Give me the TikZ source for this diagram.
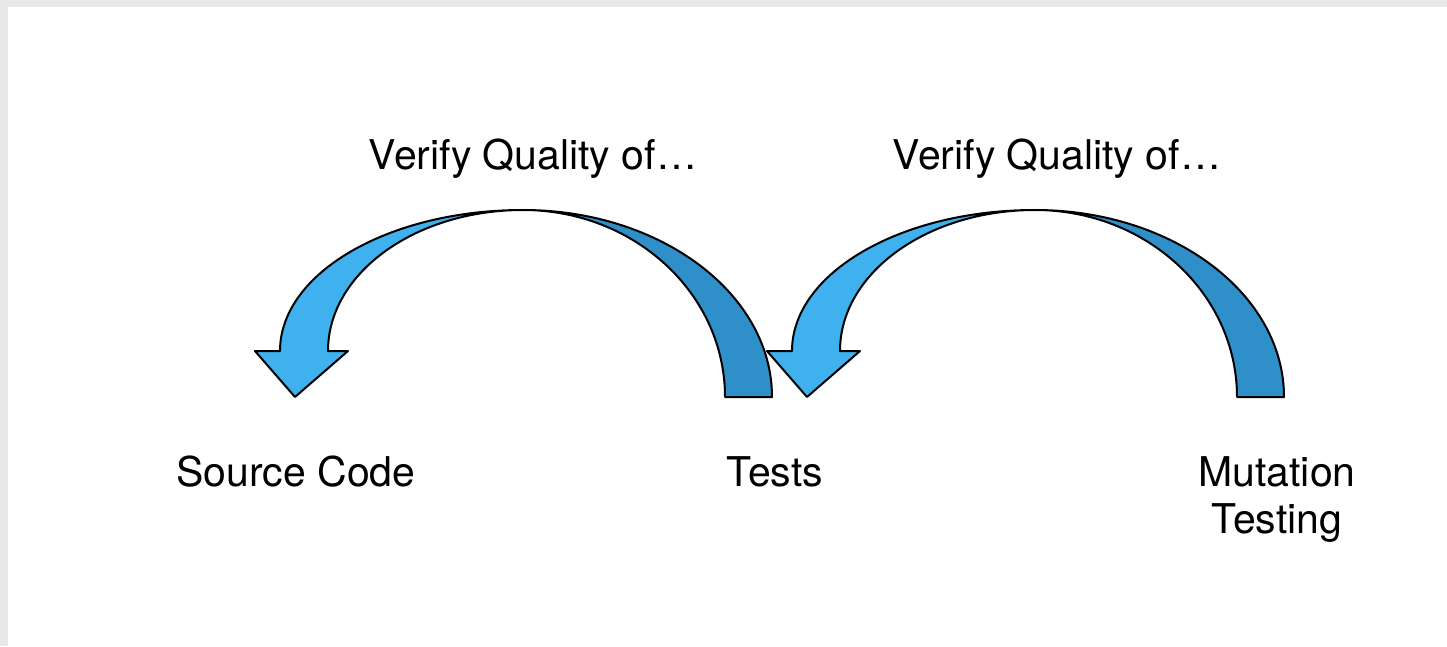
\documentclass[tikz,border=0pt]{standalone}
\usepackage{fontspec}
\setmainfont{TeX Gyre Heros}
\usetikzlibrary{positioning}
\definecolor{headblue}{HTML}{3FB1EE}
\definecolor{tailblue}{HTML}{2F8FC9}
\definecolor{paper}{HTML}{E8E8E8}

\begin{document}
\begin{tikzpicture}[
    x=1pt, y=1pt,
    band/.style={draw=black, line width=2pt, line join=round},
    tailband/.style={band, fill=tailblue},
    headband/.style={band, fill=headblue},
    caption/.style={font=\fontsize{41}{47}\selectfont, align=center, inner sep=0pt, anchor=base}
]

% Page
\fill[paper] (0,0) rectangle (1447,646);
\fill[white] (8,0) rectangle (1447,639);
\useasboundingbox (0,0) rectangle (1447,646);

% Curved arrows
\foreach \dx/\name in {0/one, 512/two} {
  \begin{scope}[xshift=\dx]
    \coordinate (top-\name) at (523,436);
    \draw[tailband] (772,249) arc[start angle=0, end angle=90, x radius=249, y radius=187]
        arc[start angle=90, end angle=0, x radius=202, y radius=187] -- cycle;
    \draw[headband] (top-\name) arc[start angle=90, end angle=180, x radius=243, y radius=141]
        -- ++(-25,0) -- ++(40,-46) -- ++(53,46) -- ++(-20,0)
        arc[start angle=180, end angle=90, x radius=195, y radius=141] -- cycle;
  \end{scope}
}

% Labels
\node[caption] (verify-one) at (533,476) {Verify Quality of…};
\node[caption] (verify-two) at (1057,476) {Verify Quality of…};
\node[caption] (source) at (296,160) {Source Code};
\node[caption] (tests) at (775,160) {Tests};
\node[caption] (mutation) at (1277,113) {Mutation\\Testing};

\end{tikzpicture}
\end{document}
